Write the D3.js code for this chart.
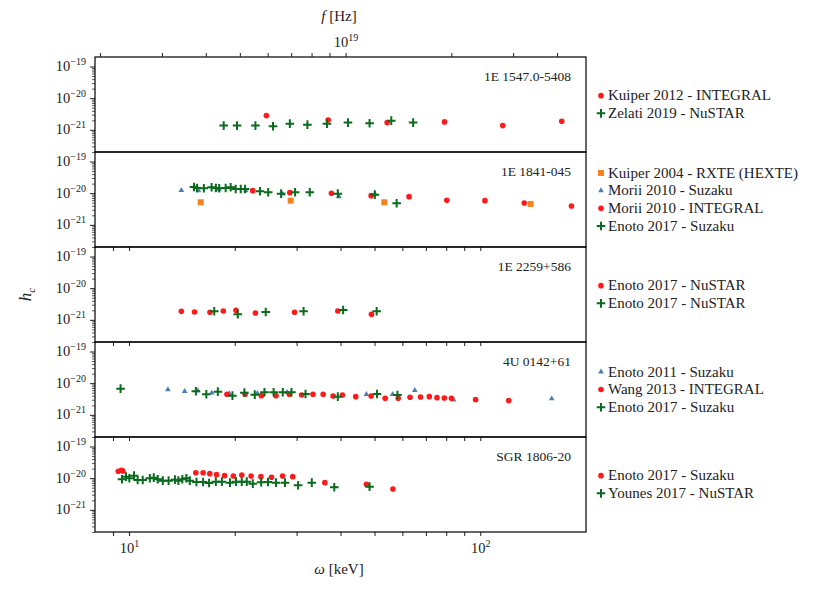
<!DOCTYPE html>
<html>
<head>
<meta charset="utf-8">
<script src="https://cdn.jsdelivr.net/npm/d3@7"></script>
<style>
  body { margin: 0; background: #fff; }
  svg text { font-family: 'Liberation Serif', 'DejaVu Serif', serif; fill: #222; }
</style>
</head>
<body>
<div id="chart"></div>
<script>
// omega [keV], h_c
const kuiper2012 = [[24.6, 2.81e-21], [36.9, 2.05e-21], [54.3, 1.69e-21], [79.1, 1.78e-21], [115.9, 1.36e-21], [170.6, 1.86e-21]]
const zelati2019 = [[18.6, 1.36e-21], [20.3, 1.36e-21], [22.9, 1.36e-21], [25.7, 1.30e-21], [28.7, 1.57e-21], [32.2, 1.46e-21],
  [36.6, 1.57e-21], [42.0, 1.69e-21], [48.4, 1.62e-21], [55.8, 1.95e-21], [64.4, 1.69e-21]]

const kuiper2004 = [[16.0, 5.16e-21], [28.85, 5.80e-21], [53.3, 5.16e-21], [139.1, 4.56e-21]]
const morii2010Suzaku = [[14.09, 1.23e-20], [15.77, 1.20e-20], [18.03, 1.29e-20], [21.5, 1.20e-20], [27.4, 9.44e-21], [39.6, 7.76e-21], [50.1, 9.44e-21]]
const morii2010Integral = [[22.5, 1.20e-20], [28.7, 1.04e-20], [37.7, 9.93e-21], [48.9, 8.34e-21], [62.7, 7.76e-21], [80.3, 5.97e-21],
  [103.1, 5.80e-21], [133.4, 4.91e-21], [181.8, 3.95e-21]]
const enoto2017Suzaku1841 = [[15.31, 1.57e-20], [15.62, 1.46e-20], [16.33, 1.43e-20], [17.18, 1.54e-20], [17.67, 1.46e-20], [18.06, 1.43e-20],
  [18.84, 1.46e-20], [19.47, 1.54e-20], [20.12, 1.36e-20], [20.8, 1.36e-20], [21.4, 1.36e-20], [23.6, 1.15e-20], [24.9, 1.07e-20],
  [27.1, 9.64e-21], [29.7, 1.07e-20], [32.7, 1.07e-20], [39.3, 9.64e-21], [50.1, 8.97e-21], [57.8, 4.80e-21]]

const enoto2017NustarA = [[14.09, 1.87e-21], [15.36, 1.77e-21], [17.0, 1.74e-21], [18.55, 1.91e-21], [20.16, 2.01e-21], [22.9, 1.65e-21],
  [29.6, 1.74e-21], [39.3, 1.91e-21], [49.0, 1.50e-21]]
const enoto2017NustarB = [[17.48, 1.87e-21], [20.4, 1.50e-21], [24.5, 1.77e-21], [31.4, 1.87e-21], [40.7, 2.05e-21], [50.7, 1.87e-21]]

const enoto2011Suzaku = [[12.9, 6.24e-21], [14.4, 5.55e-21], [15.7, 5.80e-21], [17.2, 4.91e-21], [19.3, 4.67e-21], [23.2, 4.80e-21],
  [28.2, 5.16e-21], [47.4, 4.47e-21], [56.3, 4.47e-21], [65.1, 5.97e-21], [84.0, 2.95e-21], [159.7, 3.24e-21]]
const wang2013 = [[19.0, 4.47e-21], [21.4, 4.47e-21], [23.8, 4.04e-21], [26.2, 4.04e-21], [28.6, 4.47e-21], [31.0, 4.25e-21],
  [33.4, 4.47e-21], [35.7, 4.47e-21], [38.1, 3.95e-21], [40.5, 4.25e-21], [44.2, 3.75e-21], [48.9, 3.95e-21], [53.6, 3.34e-21],
  [58.4, 3.34e-21], [63.1, 3.59e-21], [67.6, 3.67e-21], [71.6, 3.75e-21], [75.3, 3.49e-21], [79.0, 3.41e-21], [82.8, 3.34e-21],
  [97.0, 3.02e-21], [120.5, 2.81e-21]]
const enoto2017Suzaku0142 = [[9.46, 6.71e-21], [15.5, 5.55e-21], [16.6, 4.47e-21], [17.9, 5.39e-21], [19.7, 4.04e-21], [21.3, 5.01e-21],
  [22.8, 4.34e-21], [24.3, 5.16e-21], [25.8, 5.16e-21], [27.4, 5.16e-21], [29.0, 5.16e-21], [31.8, 4.56e-21], [39.3, 3.75e-21],
  [50.8, 4.56e-21], [58.1, 4.25e-21]]

const enoto2017Suzaku1806 = [[9.32, 1.65e-20], [9.52, 1.77e-20], [9.61, 1.69e-20], [15.49, 1.49e-20], [16.25, 1.49e-20], [16.98, 1.39e-20],
  [17.75, 1.29e-20], [18.71, 1.20e-20], [19.81, 1.17e-20], [20.94, 1.26e-20], [22.26, 1.17e-20], [23.73, 1.115e-20], [25.45, 1.07e-20],
  [27.36, 1.17e-20], [29.24, 1.115e-20], [36.1, 7.21e-21], [47.4, 6.43e-21], [56.4, 4.56e-21]]
const younes2017 = [[9.55, 9.23e-21], [9.80, 1.115e-20], [10.02, 9.93e-21], [10.33, 1.20e-20], [10.58, 8.77e-21], [10.94, 8.77e-21],
  [11.46, 9.93e-21], [11.76, 1.04e-20], [12.07, 9.23e-21], [12.48, 8.34e-21], [12.96, 8.34e-21], [13.51, 8.97e-21], [13.82, 8.34e-21],
  [14.18, 9.23e-21], [14.57, 9.93e-21], [14.89, 8.34e-21], [15.56, 7.59e-21], [16.25, 7.59e-21], [16.9, 7.06e-21], [17.67, 7.76e-21],
  [18.38, 7.76e-21], [19.38, 7.21e-21], [20.16, 7.76e-21], [20.94, 7.76e-21], [21.64, 7.76e-21], [22.51, 6.71e-21], [23.78, 7.43e-21],
  [24.86, 7.59e-21], [26.2, 7.21e-21], [27.8, 7.21e-21], [30.3, 5.97e-21], [33.14, 7.21e-21], [38.4, 5.16e-21], [48.4, 5.39e-21]]

const sourceNames = ['1E 1547.0-5408', '1E 1841-045', '1E 2259+586', '4U 0142+61', 'SGR 1806-20']
const yTicks = [1e-21, 1e-20, 1e-19]
const xTickLabels = [10, 100]
const planckKeV = 4.135667e-18 // keV s
const fTicks = [2e18, 3e18, 4e18, 5e18, 6e18, 7e18, 8e18, 9e18, 1e19, 2e19, 3e19, 4e19]

const colors = { circle: '#ff1a1a', plus: '#0a6b1f', triangle: '#4a7fb5', square: '#f5821f' }

const panels = [
  { name: sourceNames[0], series: [
    { label: 'Kuiper 2012 - INTEGRAL', shape: 'circle', data: kuiper2012 },
    { label: 'Zelati 2019 - NuSTAR', shape: 'plus', data: zelati2019 }] },
  { name: sourceNames[1], series: [
    { label: 'Kuiper 2004 - RXTE (HEXTE)', shape: 'square', data: kuiper2004 },
    { label: 'Morii 2010 - Suzaku', shape: 'triangle', data: morii2010Suzaku },
    { label: 'Morii 2010 - INTEGRAL', shape: 'circle', data: morii2010Integral },
    { label: 'Enoto 2017 - Suzaku', shape: 'plus', data: enoto2017Suzaku1841 }] },
  { name: sourceNames[2], series: [
    { label: 'Enoto 2017 - NuSTAR', shape: 'circle', data: enoto2017NustarA },
    { label: 'Enoto 2017 - NuSTAR', shape: 'plus', data: enoto2017NustarB }] },
  { name: sourceNames[3], series: [
    { label: 'Enoto 2011 - Suzaku', shape: 'triangle', data: enoto2011Suzaku },
    { label: 'Wang 2013 - INTEGRAL', shape: 'circle', data: wang2013 },
    { label: 'Enoto 2017 - Suzaku', shape: 'plus', data: enoto2017Suzaku0142 }] },
  { name: sourceNames[4], series: [
    { label: 'Enoto 2017 - Suzaku', shape: 'circle', data: enoto2017Suzaku1806 },
    { label: 'Younes 2017 - NuSTAR', shape: 'plus', data: younes2017 }] },
]

const width = 816
const height = 590
const margin = { left: 95, right: 230, top: 57 }
const panelH = 95
const plotW = width - margin.left - margin.right

const svg = d3.select('#chart').append('svg')
  .attr('width', width)
  .attr('height', height)

const x = d3.scaleLog().domain([8, 200]).range([margin.left, margin.left + plotW])
const y = d3.scaleLog().domain([Math.pow(10, -21.7), Math.pow(10, -18.7)]).range([panelH, 0])
const xf = d3.scaleLog().domain([8 / planckKeV, 200 / planckKeV]).range(x.range())

const supLabel = (sel, base, exp) => {
  sel.text(base)
  sel.append('tspan').attr('dy', -6).attr('font-size', '10px').text(exp)
}

function drawMarker(g, shape, cx, cy, color) {
  if (shape === 'circle') {
    g.append('circle').attr('cx', cx).attr('cy', cy).attr('r', 2.8).attr('fill', color)
  } else if (shape === 'plus') {
    g.append('path').attr('d', `M${cx - 4.3},${cy}H${cx + 4.3}M${cx},${cy - 4.3}V${cy + 4.3}`)
      .attr('stroke', color).attr('stroke-width', 2).attr('fill', 'none')
  } else if (shape === 'triangle') {
    g.append('path').attr('d', d3.symbol(d3.symbolTriangle, 14)()).attr('transform', `translate(${cx},${cy})`)
      .attr('fill', color)
  } else {
    g.append('rect').attr('x', cx - 3).attr('y', cy - 3).attr('width', 6).attr('height', 6).attr('fill', color)
  }
}

const minorY = []
for (let e = -22; e <= -19; e++) for (let k = 2; k <= 9; k++) {
  const v = k * Math.pow(10, e)
  if (v >= y.domain()[0] && v <= y.domain()[1]) minorY.push(v)
}
const minorX = []
for (let e = 0; e <= 2; e++) for (let k = 1; k <= 9; k++) {
  const v = k * Math.pow(10, e)
  if (v > 8 && v < 200 && k !== 1) minorX.push(v)
}

panels.forEach((panel, i) => {
  const top = margin.top + i * panelH
  const g = svg.append('g').attr('transform', `translate(0,${top})`)

  // y ticks
  g.append('g')
    .attr('transform', `translate(${margin.left},0)`)
    .call(d3.axisLeft(y).tickValues(minorY).tickSize(3).tickFormat(''))
    .call((a) => a.select('.domain').remove())
    .call((a) => a.selectAll('line').attr('stroke', '#333').attr('stroke-width', 0.8))
  const ya = g.append('g')
    .attr('transform', `translate(${margin.left},0)`)
    .call(d3.axisLeft(y).tickValues(yTicks).tickSize(5).tickFormat(''))
  ya.select('.domain').remove()
  ya.selectAll('line').attr('stroke', '#222').attr('stroke-width', 1)
  ya.selectAll('.tick').each(function (d) {
    const t = d3.select(this).append('text')
      .attr('x', -9).attr('y', 4).attr('text-anchor', 'end').attr('font-size', '14.5px')
    supLabel(t, '10', '\u2212' + Math.abs(Math.round(Math.log10(d))))
  })

  // x ticks along the bottom (the first panel's are hidden by the next one)
  if (i > 0) {
    const xa = g.append('g')
      .attr('transform', `translate(0,${panelH})`)
      .call(d3.axisBottom(x).tickValues(minorX.concat(xTickLabels)).tickSize(4).tickFormat(''))
    xa.select('.domain').remove()
    xa.selectAll('line').attr('stroke', '#222').attr('stroke-width', 1)
    if (i === panels.length - 1) {
      xa.selectAll('.tick').filter((d) => xTickLabels.includes(d)).each(function (d) {
        const t = d3.select(this).append('text')
          .attr('y', 21).attr('text-anchor', 'middle').attr('font-size', '14.5px')
        supLabel(t, '10', String(Math.round(Math.log10(d))))
      })
    }
  }

  // markers
  const marks = g.append('g')
  panel.series.forEach((s) => {
    s.data.forEach((d) => drawMarker(marks, s.shape, x(d[0]), y(d[1]), colors[s.shape]))
  })

  // frame
  g.append('rect')
    .attr('x', margin.left).attr('y', 0)
    .attr('width', plotW).attr('height', panelH)
    .attr('fill', 'none').attr('stroke', '#000').attr('stroke-width', 1.2)

  g.append('text')
    .attr('x', margin.left + plotW - 15).attr('y', 24)
    .attr('text-anchor', 'end').attr('font-size', '13.5px')
    .text(panel.name)

  // legend, centred on the panel
  const rowH = 17.7
  const legTop = panelH / 2 - ((panel.series.length - 1) * rowH) / 2
  panel.series.forEach((s, j) => {
    const ly = legTop + j * rowH
    drawMarker(g, s.shape, 601, ly, colors[s.shape])
    g.append('text').attr('x', 608).attr('y', ly + 4.8).attr('font-size', '15px').text(s.label)
  })
})

// secondary axis: frequency
const fa = svg.append('g')
  .attr('transform', `translate(0,${margin.top})`)
  .call(d3.axisTop(xf).tickValues(fTicks).tickSize(4).tickFormat(''))
fa.select('.domain').remove()
fa.selectAll('line').attr('stroke', '#222').attr('stroke-width', 1)
fa.selectAll('.tick').filter((d) => d === 1e19).each(function () {
  const t = d3.select(this).append('text').attr('y', -10).attr('text-anchor', 'middle').attr('font-size', '14.5px')
  supLabel(t, '10', '19')
})

const fLabel = svg.append('text').attr('x', 339).attr('y', 21).attr('text-anchor', 'middle').attr('font-size', '15px')
fLabel.append('tspan').attr('font-style', 'italic').text('f')
fLabel.append('tspan').text(' [Hz]')

const wLabel = svg.append('text').attr('x', 339).attr('y', 574).attr('text-anchor', 'middle').attr('font-size', '15px')
wLabel.append('tspan').attr('font-style', 'italic').text('\u03c9')
wLabel.append('tspan').text(' [keV]')

const hLabel = svg.append('text')
  .attr('transform', `translate(31,${margin.top + panelH * 2.5}) rotate(-90)`)
  .attr('text-anchor', 'middle').attr('font-size', '17px').attr('font-style', 'italic')
hLabel.append('tspan').text('h')
hLabel.append('tspan').attr('dy', 4).attr('font-size', '11px').text('c')
</script>
</body>
</html>
